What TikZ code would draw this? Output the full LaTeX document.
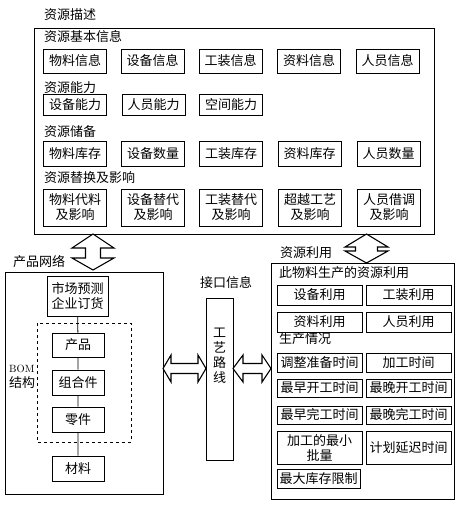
\documentclass[tikz,border=0pt]{standalone}
\usepackage{fontspec}
\newfontfamily\cjk{Noto Sans CJK SC}
\usepackage{tikz}

\begin{document}
\begin{tikzpicture}[x=1pt,y=-1pt,font=\cjk\fontsize{13}{15}\selectfont,
  box/.style={draw,line width=0.9pt,inner sep=0pt,align=center},
  title/.style={anchor=west,inner sep=0pt},
  bigarrow/.style={draw,line width=1.1pt,fill=white,line join=miter}]
\useasboundingbox (0,0) rectangle (463,506);

% resource description
\node at (44,15) [title] (zyms) {资源描述};
\draw [line width=0.8pt] (34,28) rectangle (434,234);
\node at (44,37) [title] (jbxx) {资源基本信息};
\foreach \nm/\x/\txt in {wlxx/75/物料信息,sbxx/152.5/设备信息,gzxx/230.5/工装信息,zlxx/309/资料信息,ryxx/387.5/人员信息}
  \node at (\x,61) [box,minimum width=63pt,minimum height=24pt] (\nm) {\txt};
\node at (44,88) [title] (zynl) {资源能力};
\foreach \nm/\x/\txt in {sbnl/75/设备能力,rynl/153.5/人员能力,kjnl/231/空间能力}
  \node at (\x,104.5) [box,minimum width=63pt,minimum height=21pt] (\nm) {\txt};
\node at (44,132) [title] (zycb) {资源储备};
\foreach \nm/\x/\txt in {wlkc/75/物料库存,sbsl/153/设备数量,gzkc/231/工装库存,zlkc/309.5/资料库存,rysl/388.5/人员数量}
  \node at (\x,153.5) [box,minimum width=63pt,minimum height=25pt] (\nm) {\txt};
\node at (44,178) [title] (zyth) {资源替换及影响};
\foreach \nm/\x/\txt in {wldl/75/物料代料\\及影响,sbtd/153/设备替代\\及影响,gztd/231/工装替代\\及影响,cygy/310/超越工艺\\及影响,ryjd/389/人员借调\\及影响}
  \node at (\x,207.5) [box,minimum width=63pt,minimum height=37pt] (\nm) {\txt};

% up/down arrows
\draw [bigarrow] (93,234) -- (114,248) -- (100.5,248) -- (100.5,258) -- (114,258) -- (93,270)
  -- (72,258) -- (85.5,258) -- (85.5,248) -- (72,248) -- cycle;
\draw [bigarrow] (366.5,234) -- (388,247) -- (377.5,247) -- (377.5,251) -- (388,251) -- (366.5,263)
  -- (345,251) -- (355.5,251) -- (355.5,247) -- (345,247) -- cycle;

% product network
\node at (13,262) [title] (cpwl) {产品网络};
\draw [line width=0.8pt] (5,272) rectangle (163,494);
\node at (77.5,296) [box,minimum width=61pt,minimum height=40pt] (scyc) {市场预测\\企业订货};
\draw [line width=0.8pt,dashed] (37,323) rectangle (131,442);
\node at (78,345) [box,minimum width=52pt,minimum height=24pt] (cp) {产品};
\node at (78,382.5) [box,minimum width=52pt,minimum height=25pt] (zhj) {组合件};
\node at (78,419.5) [box,minimum width=52pt,minimum height=25pt] (lj) {零件};
\node at (78,468.5) [box,minimum width=52pt,minimum height=25pt] (cl) {材料};
\draw [line width=0.8pt] (scyc) -- (cp) (cp) -- (zhj) (zhj) -- (lj) (lj) -- (cl);
\node at (9,377) [anchor=west,inner sep=0pt,align=left] (bom) {{\rmfamily\fontsize{10.5}{12}\selectfont BOM}\\结构};

% interface
\node at (200,283) [title] (jkxx) {接口信息};
\node at (219.5,379) [draw,line width=0.8pt,minimum width=27pt,minimum height=162pt,inner sep=0pt] (gylx) {};
\node at (219.5,356) [inner sep=0pt,align=center] (gylxt) {工\\艺\\路\\线};
\draw [bigarrow] (163,368.5) -- (171,355) -- (171,363.5) -- (198,363.5) -- (198,355) -- (206,368.5)
  -- (198,382) -- (198,373.5) -- (171,373.5) -- (171,382) -- cycle;
\draw [bigarrow] (233,368.5) -- (243,355) -- (243,363.5) -- (262,363.5) -- (262,355) -- (271,368.5)
  -- (262,382) -- (262,373.5) -- (243,373.5) -- (243,382) -- cycle;

% resource usage
\node at (280,253) [title] (zyly) {资源利用};
\draw [line width=0.8pt] (271,263) rectangle (454,499);
\node at (279,273) [title] (cwlsc) {此物料生产的资源利用};
\node at (319.5,295) [box,minimum width=85pt,minimum height=20pt] (sbly) {设备利用};
\node at (408.5,295) [box,minimum width=85pt,minimum height=20pt] (gzly) {工装利用};
\node at (319.5,322) [box,minimum width=85pt,minimum height=20pt] (zlly) {资料利用};
\node at (408.5,322) [box,minimum width=85pt,minimum height=20pt] (ryly) {人员利用};
\node at (279,339) [title] (scqk) {生产情况};
\node at (319.5,362.5) [box,minimum width=85pt,minimum height=19pt] (tzzb) {调整准备时间};
\node at (408.5,362.5) [box,minimum width=85pt,minimum height=19pt] (jgsj) {加工时间};
\node at (319.5,388) [box,minimum width=85pt,minimum height=18pt] (zzkg) {最早开工时间};
\node at (408.5,388) [box,minimum width=85pt,minimum height=18pt] (zwkg) {最晚开工时间};
\node at (319.5,415) [box,minimum width=85pt,minimum height=18pt] (zzwg) {最早完工时间};
\node at (408.5,415) [box,minimum width=85pt,minimum height=18pt] (zwwg) {最晚完工时间};
\node at (319.5,447.5) [box,minimum width=85pt,minimum height=33pt] (zxpl) {加工的最小\\批量};
\node at (408.5,447.5) [box,minimum width=85pt,minimum height=33pt] (jhyc) {计划延迟时间};
\node at (318.5,478.5) [box,minimum width=83pt,minimum height=19pt] (zdkc) {最大库存限制};
\end{tikzpicture}
\end{document}
